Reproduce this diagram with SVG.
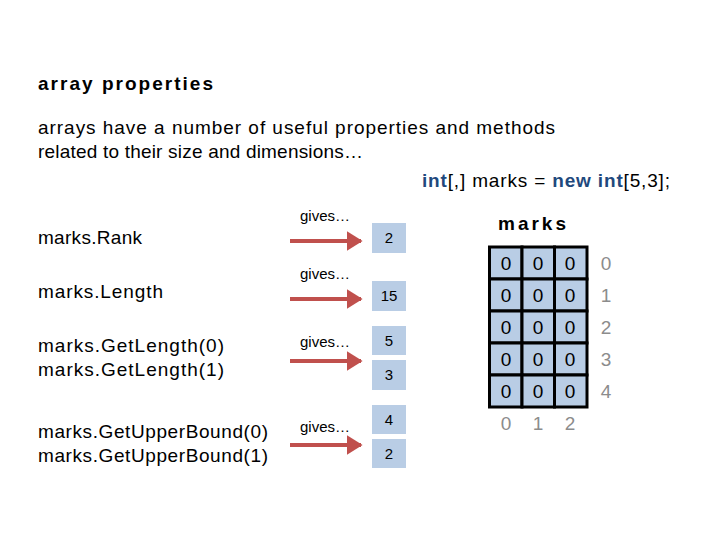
<svg xmlns="http://www.w3.org/2000/svg" width="720" height="540" viewBox="0 0 720 540">
<defs>
<style>
.t{font-family:"Liberation Sans","DejaVu Sans",sans-serif;font-size:19px;fill:#000}
.b{font-weight:bold}
.kw{fill:#1f497d;font-weight:bold}
.g{font-family:"Liberation Sans",Carlito,sans-serif;font-size:15px;fill:#000}
.box{fill:#b9cde5}
.cell{fill:#b9cde5;stroke:#000;stroke-width:3}
.z{font-family:"Liberation Sans","DejaVu Sans",sans-serif;font-size:19px;fill:#000;text-anchor:middle}
.idx{font-family:"Liberation Sans","DejaVu Sans",sans-serif;font-size:19px;fill:#8c8c8c;text-anchor:middle}
.arr{stroke:#c0504d;stroke-width:4;fill:none}
</style>
<marker id="ah" markerWidth="4" markerHeight="5" refX="3.6" refY="2.5" orient="auto" markerUnits="strokeWidth">
<path d="M0,0 L4,2.5 L0,5 Z" fill="#c0504d"/>
</marker>
</defs>
<rect width="720" height="540" fill="#fff"/>
<g id="title">
<text class="t b" x="38" y="90" font-size="21" textLength="175">array properties</text>
<text class="t" x="38" y="134" textLength="517">arrays have a number of useful properties and methods</text>
<text class="t" x="38" y="158" textLength="325">related to their size and dimensions…</text>
<text class="t" x="422" y="187" textLength="248"><tspan class="kw">int</tspan>[,] marks = <tspan class="kw">new</tspan> <tspan class="kw">int</tspan>[5,3];</text>
</g>
<g id="labels">
<text class="t" x="38" y="244" textLength="104">marks.Rank</text>
<text class="t" x="38" y="298" textLength="125">marks.Length</text>
<text class="t" x="38" y="352" textLength="186">marks.GetLength(0)</text>
<text class="t" x="38" y="376" textLength="186">marks.GetLength(1)</text>
<text class="t" x="38" y="438" textLength="230">marks.GetUpperBound(0)</text>
<text class="t" x="38" y="462" textLength="230">marks.GetUpperBound(1)</text>
</g>
<g id="connectors">
<line class="arr" x1="290" y1="241" x2="361" y2="241" marker-end="url(#ah)"/>
<line class="arr" x1="290" y1="299" x2="361" y2="299" marker-end="url(#ah)"/>
<line class="arr" x1="290" y1="361" x2="361" y2="361" marker-end="url(#ah)"/>
<line class="arr" x1="290" y1="445" x2="361" y2="445" marker-end="url(#ah)"/>
<text class="g" x="300" y="221">gives…</text>
<text class="g" x="300" y="279">gives…</text>
<text class="g" x="300" y="347">gives…</text>
<text class="g" x="300" y="432">gives…</text>
</g>
<g id="results">
<rect class="box" x="372" y="223" width="34" height="30"/>
<text class="g" x="389" y="243" text-anchor="middle">2</text>
<rect class="box" x="372" y="281" width="34" height="30"/>
<text class="g" x="389" y="301" text-anchor="middle">15</text>
<rect class="box" x="372" y="326" width="34" height="29"/>
<text class="g" x="389" y="346" text-anchor="middle">5</text>
<rect class="box" x="372" y="360" width="34" height="30"/>
<text class="g" x="389" y="380" text-anchor="middle">3</text>
<rect class="box" x="372" y="405" width="34" height="29"/>
<text class="g" x="389" y="425" text-anchor="middle">4</text>
<rect class="box" x="372" y="439" width="34" height="29"/>
<text class="g" x="389" y="459" text-anchor="middle">2</text>
</g>
<g id="grid">
<text class="t b" x="498" y="230" font-size="21" textLength="68">marks</text>
<g>
<rect class="cell" x="489.5" y="247" width="32.5" height="32"/><rect class="cell" x="522" y="247" width="32.5" height="32"/><rect class="cell" x="554.5" y="247" width="32.5" height="32"/>
<rect class="cell" x="489.5" y="279" width="32.5" height="32"/><rect class="cell" x="522" y="279" width="32.5" height="32"/><rect class="cell" x="554.5" y="279" width="32.5" height="32"/>
<rect class="cell" x="489.5" y="311" width="32.5" height="32"/><rect class="cell" x="522" y="311" width="32.5" height="32"/><rect class="cell" x="554.5" y="311" width="32.5" height="32"/>
<rect class="cell" x="489.5" y="343" width="32.5" height="32"/><rect class="cell" x="522" y="343" width="32.5" height="32"/><rect class="cell" x="554.5" y="343" width="32.5" height="32"/>
<rect class="cell" x="489.5" y="375" width="32.5" height="32"/><rect class="cell" x="522" y="375" width="32.5" height="32"/><rect class="cell" x="554.5" y="375" width="32.5" height="32"/>
</g>
<g>
<text class="z" x="506" y="270">0</text><text class="z" x="538" y="270">0</text><text class="z" x="570" y="270">0</text>
<text class="z" x="506" y="302">0</text><text class="z" x="538" y="302">0</text><text class="z" x="570" y="302">0</text>
<text class="z" x="506" y="334">0</text><text class="z" x="538" y="334">0</text><text class="z" x="570" y="334">0</text>
<text class="z" x="506" y="366">0</text><text class="z" x="538" y="366">0</text><text class="z" x="570" y="366">0</text>
<text class="z" x="506" y="398">0</text><text class="z" x="538" y="398">0</text><text class="z" x="570" y="398">0</text>
</g>
<g>
<text class="idx" x="606" y="270">0</text>
<text class="idx" x="606" y="302">1</text>
<text class="idx" x="606" y="334">2</text>
<text class="idx" x="606" y="366">3</text>
<text class="idx" x="606" y="398">4</text>
<text class="idx" x="506" y="430">0</text>
<text class="idx" x="538" y="430">1</text>
<text class="idx" x="570" y="430">2</text>
</g>
</g>
</svg>
